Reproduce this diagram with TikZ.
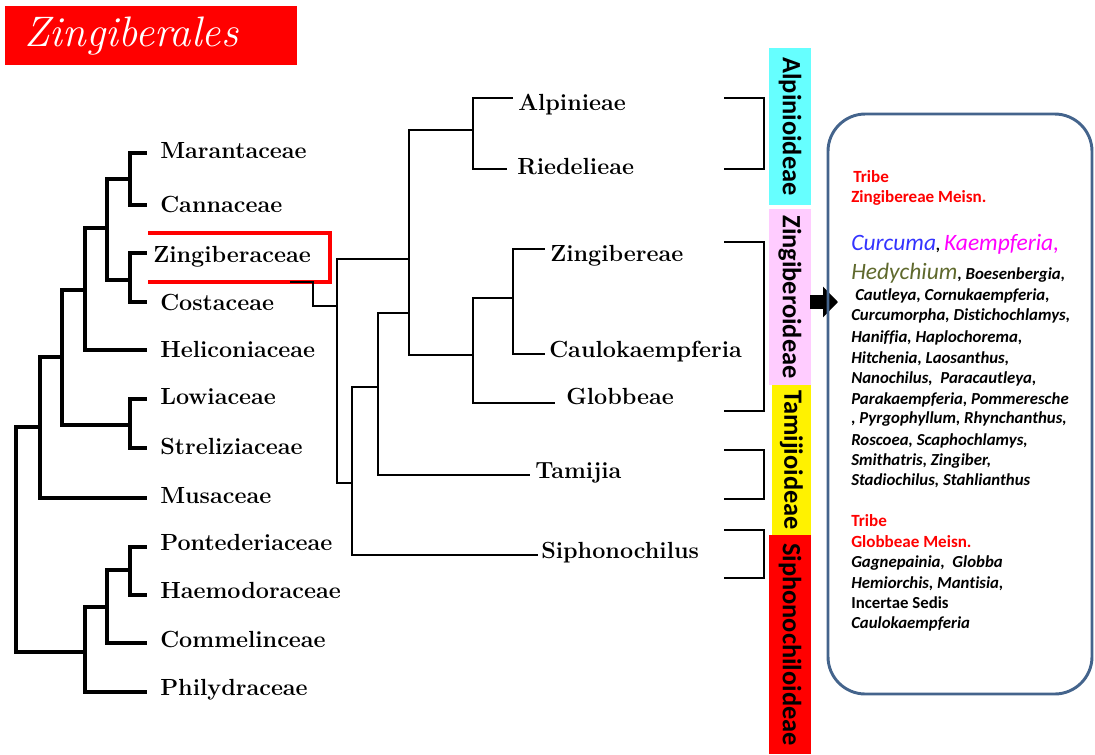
\documentclass[tikz,border=0pt]{standalone}
\usepackage{fontspec}
\newfontfamily\calibri[Ligatures=NoCommon]{Carlito}
\usetikzlibrary{arrows.meta}
\definecolor{alpcyan}{RGB}{102,255,255}
\definecolor{zinpink}{RGB}{255,204,255}
\definecolor{boxblue}{RGB}{68,100,140}
\definecolor{curblue}{RGB}{51,51,255}
\definecolor{kaemag}{RGB}{255,0,255}
\definecolor{hedolive}{RGB}{95,105,45}
\newcommand\biggen[2]{{\fontsize{17.6}{20}\selectfont\mdseries\color{#1}#2}}

\begin{document}
\begin{tikzpicture}[x=0.75pt,y=-0.75pt,
	fam/.style={anchor=base west,inner sep=0pt,font=\fontsize{17.5}{20}\selectfont\bfseries},
	branch/.style={line width=2.6pt},
	twig/.style={line width=1.8pt},
	subfam/.style={rotate=-90,inner sep=0pt,minimum height=31.5pt,font=\calibri\bfseries\fontsize{19.8}{24}\selectfont},
	tribe/.style={anchor=base west,inner sep=0pt,text=red,font=\calibri\bfseries\fontsize{12.8}{15}\selectfont},
	genus/.style={anchor=base west,inner sep=0pt,font=\calibri\bfseries\itshape\fontsize{12.6}{15}\selectfont}]
	\useasboundingbox (0,0) rectangle (1095,754);
	
	% title
	\node[fill=red,anchor=north west,inner sep=0pt,minimum width=219pt,minimum height=44.25pt] (titlebox) at (5,6) {};
	\node[anchor=base west,inner sep=0pt,text=white,font=\fontsize{32}{36}\selectfont\itshape] (title) at (24,46) {Zingiberales};
	
	% families
	\foreach \n/\txt/\x/\y/\b in {Mar/Marantaceae/160/153/158, Can/Cannaceae/160/205/212,
		Zin/Zingiberaceae/153/253/262, Cos/Costaceae/160/302/310, Hel/Heliconiaceae/160/350/357,
		Low/Lowiaceae/160/399/404, Str/Streliziaceae/160/448/454, Mus/Musaceae/160/498/503,
		Pon/Pontederiaceae/160/547/550, Hae/Haemodoraceae/160/595/598,
		Com/Commelinceae/160/643/647, Phi/Philydraceae/160/692/695}{
		\coordinate (t\n) at (147,\y);
		\node[fam] (\n) at (\x,\b) {\txt};
	}
	\coordinate (nMC) at (130,179);
	\coordinate (nZC) at (130,280);
	\coordinate (nA) at (107,228);
	\coordinate (nB) at (85,290);
	\coordinate (nLS) at (130,425);
	\coordinate (nC) at (62,357);
	\coordinate (nD) at (40,427);
	\coordinate (nPH) at (130,570);
	\coordinate (nE) at (107,607);
	\coordinate (nF) at (85,652);
	\coordinate (nR) at (16,540);
	\foreach \p/\c in {nMC/tMar, nMC/tCan, nZC/tZin, nZC/tCos, nA/nMC, nA/nZC, nB/nA, nB/tHel,
		nLS/tLow, nLS/tStr, nC/nB, nC/nLS, nD/nC, nD/tMus, nPH/tPon, nPH/tHae,
		nE/nPH, nE/tCom, nF/nE, nF/tPhi, nR/nD, nR/nF}
		\draw[branch] (\p) |- (\c);
	
	% red frame round Zingiberaceae
	\draw[red,line width=2.4pt] (148,233) -| (330,282) -- (148,282);
	
	% tribes
	\foreach \n/\txt/\x/\y/\tx/\b in {Alp/Alpinieae/513/98/518/110, Rie/Riedelieae/507/169/517/174,
		Zgb/Zingibereae/545/249/550/261, Cau/Caulokaempferia/545/354/549/357,
		Glo/Globbeae/555/403/566/404, Tam/Tamijia/530/475/535/478, Sip/Siphonochilus/538/555/541/558}{
		\coordinate (t\n) at (\x,\y);
		\node[fam] (\n) at (\tx,\b) {\txt};
	}
	\coordinate (zStub) at (290,282);
	\coordinate (zBend) at (313,306);
	\coordinate (mR) at (337,306);
	\coordinate (mS) at (352,483);
	\coordinate (mT) at (378,387);
	\coordinate (mJ) at (409,313);
	\coordinate (mAZ) at (409,259);
	\coordinate (mAlp) at (473,130);
	\coordinate (mZin) at (473,355);
	\coordinate (mZC) at (513,298);
	\draw[twig] (zStub) -| (zBend) -- (mR);
	\foreach \p/\c in {mR/mAZ, mR/mS, mS/mT, mS/tSip, mT/mJ, mT/tTam, mAZ/mAlp, mAZ/mZin,
		mAlp/tAlp, mAlp/tRie, mZin/mZC, mZin/tGlo, mZC/tZgb, mZC/tCau}
		\draw[twig] (\p) |- (\c);
	
	% brackets
	\foreach \t/\b in {98/169, 242/411, 450/499, 530/578}
		\draw[line width=1.9pt] (724,\t) -| (764,\b) -- (724,\b);
	
	% subfamilies
	\node[subfam,fill=alpcyan,minimum width=117.75pt] (alp) at (790,126.5) {Alpinioideae};
	\node[subfam,fill=zinpink,minimum width=132pt] (zin) at (790,297) {Zingiberoideae};
	\node[subfam,fill=yellow,minimum width=112.5pt,minimum height=29.25pt] (tam) at (791.5,460) {Tamijioideae};
	\node[subfam,fill=red,minimum width=164.25pt] (sip) at (790,644.5) {Siphonochiloideae};
	
	% arrow and genera box
	\coordinate (arrS) at (810,302);
	\coordinate (arrE) at (838,302);
	\draw[line width=10.5pt,-{Triangle[length=11.25pt,width=22.5pt]}] (arrS) -- (arrE);
	\draw[boxblue,line width=2.2pt,rounded corners=28pt] (828,114) rectangle (1092,694);
	
	\node[tribe] (tr1) at (853,182) {Tribe};
	\node[tribe] (tr1n) at (851,202) {Zingibereae Meisn.};
	\node[genus] (g1) at (851,250) {\biggen{curblue}{Curcuma}, \biggen{kaemag}{Kaempferia,}};
	\node[genus] (g2) at (851,279) {\biggen{hedolive}{Hedychium}, Boesenbergia,};
	\node[genus] (g3) at (855,300) {Cautleya, Cornukaempferia,};
	\foreach \y/\txt [count=\i from 4] in {320/{Curcumorpha, Distichochlamys,}, 342/{Haniffia, Haplochorema,},
		363/{Hitchenia, Laosanthus,}, 383/{Nanochilus,\ \ Paracautleya,}, 404/{Parakaempferia, Pommeresche},
		423/{, Pyrgophyllum, Rhynchanthus,}, 445/{Roscoea, Scaphochlamys,}, 465/{Smithatris, Zingiber,},
		485/{Stadiochilus, Stahlianthus}}
		\node[genus] (g\i) at (851,\y) {\txt};
	
	\node[tribe] (tr2) at (851,526) {Tribe};
	\node[tribe] (tr2n) at (851,547) {Globbeae Meisn.};
	\node[genus] (h1) at (851,567) {Gagnepainia,\ \ Globba};
	\node[genus] (h2) at (851,588) {Hemiorchis, Mantisia,};
	\node[genus,font=\calibri\bfseries\fontsize{12.6}{15}\selectfont] (h3) at (851,608) {Incertae Sedis};
	\node[genus] (h4) at (851,628) {Caulokaempferia};
\end{tikzpicture}
\end{document}
